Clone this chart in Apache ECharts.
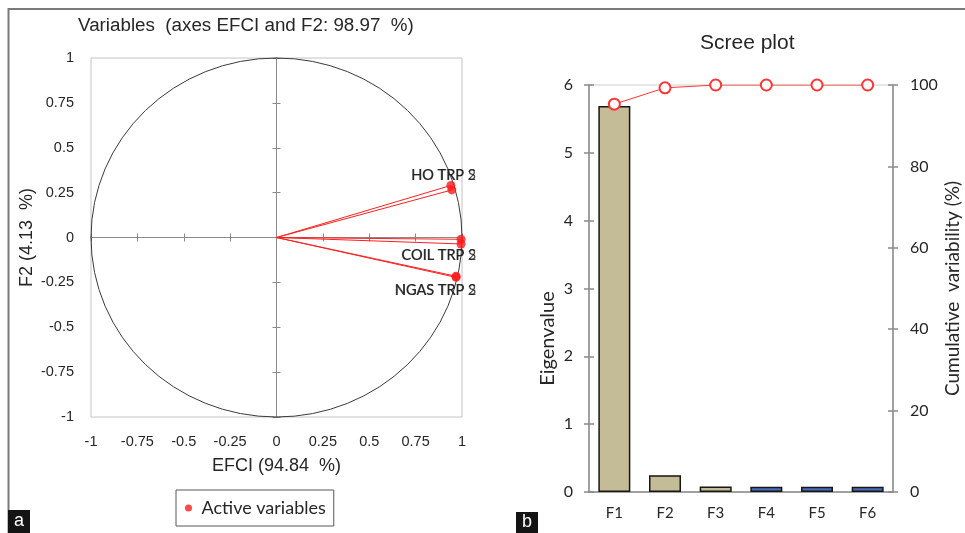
<!DOCTYPE html>
<html>
<head>
<meta charset="utf-8">
<script src="https://cdn.jsdelivr.net/npm/echarts@6/dist/echarts.min.js"></script>
<style>html,body{margin:0;padding:0;background:#fff;}#c{width:965px;height:533px;}</style>
</head>
<body>
<div id="c"></div>
<script>
// ---- Data: correlation circle (panel a) ----
const varNames = ['HO TRP S', 'HO TRP 2', 'COIL TRP S', 'COIL TRP 2', 'NGAS TRP S', 'NGAS TRP 2'];
const efciLoad = [0.94, 0.945, 0.995, 0.995, 0.968, 0.968];
const f2Load = [0.29, 0.265, -0.01, -0.036, -0.216, -0.222];
// ---- Data: scree plot (panel b) ----
const factors = ['F1', 'F2', 'F3', 'F4', 'F5', 'F6'];
const eigenvalues = [5.69, 0.248, 0.08, 0.078, 0.078, 0.078];
const cumulative = [95.3, 99.3, 100, 100, 100, 100];

// label placement (style only)
const labelOffsets = [[25, -10], [24, -15], [15, 16], [15, 11], [20, 14], [20, 13]];

const ARIAL = 'Liberation Sans';
const CAL = 'Lato';
const TXT = '#262626';

const chart = echarts.init(document.getElementById('c'), null, {renderer: 'canvas'});

const vectorSeries = varNames.map((n, i) => ({
  type: 'line', xAxisIndex: 0, yAxisIndex: 0, silent: true,
  data: [[0, 0], [efciLoad[i], f2Load[i]]],
  symbol: 'none', lineStyle: {color: '#ff2020', width: 1}, z: 3
}));

const option = {
  animation: false,
  title: [
    {text: 'Variables  (axes EFCI and F2: 98.97  %)', left: 78, top: 16, padding: 0,
     textStyle: {fontFamily: ARIAL, fontSize: 18.8, fontWeight: 'normal', color: TXT}},
    {text: 'Scree plot', left: 700, top: 33, padding: 0,
     textStyle: {fontFamily: ARIAL, fontSize: 21, fontWeight: 'normal', color: TXT}},
    {text: 'a', left: 8, top: 510, padding: [2, 6, 2, 6], backgroundColor: '#141414',
     textStyle: {fontFamily: ARIAL, fontSize: 18, lineHeight: 19, fontWeight: 'normal', color: '#fff'}},
    {text: 'b', left: 516, top: 512, padding: [1, 6, 1, 6], backgroundColor: '#141414',
     textStyle: {fontFamily: ARIAL, fontSize: 18, lineHeight: 19, fontWeight: 'normal', color: '#fff'}}
  ],
  graphic: [
    {type: 'line', shape: {x1: 8, y1: 9, x2: 965, y2: 9}, style: {stroke: '#7a7a7a', lineWidth: 2}},
    {type: 'line', shape: {x1: 8.5, y1: 8, x2: 8.5, y2: 533}, style: {stroke: '#7a7a7a', lineWidth: 2}}
  ],
  legend: {
    data: ['Active variables'], left: 176, top: 490, selectedMode: false,
    borderColor: '#595959', borderWidth: 1, padding: [9, 8, 9, 9],
    icon: 'circle', itemWidth: 16, itemHeight: 7,
    textStyle: {fontFamily: CAL, fontSize: 18, color: TXT}
  },
  grid: [
    {left: 91, top: 58, width: 371, height: 359, show: true, borderColor: '#c4c4c4', borderWidth: 1},
    {left: 589, top: 85, width: 304, height: 407, show: true, borderColor: '#cfcfcf', borderWidth: 1}
  ],
  xAxis: [
    {gridIndex: 0, type: 'value', min: -1, max: 1, interval: 0.25, position: 'bottom',
     axisLine: {show: false, onZero: false}, axisTick: {show: false}, splitLine: {show: false},
     axisLabel: {margin: 17, fontFamily: ARIAL, fontSize: 14.5, color: TXT},
     name: 'EFCI (94.84  %)', nameLocation: 'middle', nameGap: 40,
     nameTextStyle: {fontFamily: ARIAL, fontSize: 18, color: TXT}},
    {gridIndex: 0, type: 'value', min: -1, max: 1, interval: 0.25, position: 'bottom',
     axisLine: {show: true, onZero: true, onZeroAxisIndex: 0, lineStyle: {color: '#8a8a8a', width: 1}},
     axisTick: {show: true, inside: true, length: 4, lineStyle: {color: '#8a8a8a'}},
     axisLabel: {show: false}, splitLine: {show: false}},
    {gridIndex: 0, type: 'value', min: -1, max: 1, interval: 0.25, position: 'bottom',
     axisLine: {show: true, onZero: true, onZeroAxisIndex: 0, lineStyle: {color: '#8a8a8a', width: 1}},
     axisTick: {show: true, inside: false, length: 4, lineStyle: {color: '#8a8a8a'}},
     axisLabel: {show: false}, splitLine: {show: false}},
    {gridIndex: 1, type: 'category', data: factors, boundaryGap: true,
     axisLine: {show: true, lineStyle: {color: '#8a8a8a', width: 1.5}}, axisTick: {show: false},
     axisLabel: {margin: 14, fontFamily: CAL, fontSize: 15, color: TXT}}
  ],
  yAxis: [
    {gridIndex: 0, type: 'value', min: -1, max: 1, interval: 0.25, position: 'left',
     axisLine: {show: false, onZero: false}, axisTick: {show: false}, splitLine: {show: false},
     axisLabel: {margin: 17, fontFamily: ARIAL, fontSize: 14.5, color: TXT},
     name: 'F2 (4.13  %)', nameLocation: 'middle', nameGap: 55, nameRotate: 90,
     nameTextStyle: {fontFamily: ARIAL, fontSize: 18, color: TXT}},
    {gridIndex: 0, type: 'value', min: -1, max: 1, interval: 0.25, position: 'left',
     axisLine: {show: true, onZero: true, onZeroAxisIndex: 0, lineStyle: {color: '#8a8a8a', width: 1}},
     axisTick: {show: true, inside: true, length: 4, lineStyle: {color: '#8a8a8a'}},
     axisLabel: {show: false}, splitLine: {show: false}},
    {gridIndex: 0, type: 'value', min: -1, max: 1, interval: 0.25, position: 'left',
     axisLine: {show: true, onZero: true, onZeroAxisIndex: 0, lineStyle: {color: '#8a8a8a', width: 1}},
     axisTick: {show: true, inside: false, length: 4, lineStyle: {color: '#8a8a8a'}},
     axisLabel: {show: false}, splitLine: {show: false}},
    {gridIndex: 1, type: 'value', min: 0, max: 6, interval: 1, position: 'left',
     axisLine: {show: true, lineStyle: {color: '#8a8a8a', width: 1.5}},
     axisTick: {show: true, inside: false, length: 5, lineStyle: {color: '#8a8a8a', width: 1.5}},
     splitLine: {show: false},
     axisLabel: {margin: 16, fontFamily: CAL, fontSize: 16, color: TXT},
     name: 'Eigenvalue', nameLocation: 'middle', nameGap: 31, nameRotate: 90,
     nameTextStyle: {fontFamily: CAL, fontSize: 20, color: TXT, padding: [0, 100, 0, 0]}},
    {gridIndex: 1, type: 'value', min: 0, max: 6, interval: 1, position: 'left',
     axisLine: {show: false}, splitLine: {show: false}, axisLabel: {show: false},
     axisTick: {show: true, inside: true, length: 5, lineStyle: {color: '#8a8a8a', width: 1.5}}},
    {gridIndex: 1, type: 'value', min: 0, max: 100, interval: 20, position: 'right',
     axisLine: {show: true, lineStyle: {color: '#8a8a8a', width: 1.5}},
     axisTick: {show: true, inside: false, length: 5, lineStyle: {color: '#8a8a8a', width: 1.5}},
     splitLine: {show: false},
     axisLabel: {margin: 17, fontFamily: CAL, fontSize: 16, color: TXT},
     name: 'Cumulative  variability (%)', nameLocation: 'middle', nameGap: 50, nameRotate: 90,
     nameTextStyle: {fontFamily: CAL, fontSize: 19, color: TXT}},
    {gridIndex: 1, type: 'value', min: 0, max: 100, interval: 20, position: 'right',
     axisLine: {show: false}, splitLine: {show: false}, axisLabel: {show: false},
     axisTick: {show: true, inside: true, length: 5, lineStyle: {color: '#8a8a8a', width: 1.5}}}
  ],
  series: [
    {
      type: 'custom', xAxisIndex: 0, yAxisIndex: 0, silent: true, z: 2,
      data: [[0, 0]],
      renderItem: function (params, api) {
        const c = api.coord([0, 0]);
        const e = api.coord([1, 0]);
        const t = api.coord([0, 1]);
        const rx = e[0] - c[0], ry = c[1] - t[1];
        const d = 'M ' + (c[0] - rx) + ' ' + c[1] +
          ' A ' + rx + ' ' + ry + ' 0 1 0 ' + (c[0] + rx) + ' ' + c[1] +
          ' A ' + rx + ' ' + ry + ' 0 1 0 ' + (c[0] - rx) + ' ' + c[1] + ' Z';
        return {type: 'path', shape: {pathData: d}, style: {fill: 'none', stroke: '#3a3a3a', lineWidth: 1}};
      }
    },
    ...vectorSeries,
    {
      name: 'Active variables', type: 'scatter', xAxisIndex: 0, yAxisIndex: 0, z: 5,
      symbolSize: 9, itemStyle: {color: '#ff1a1a'},
      data: varNames.map((n, i) => ({
        name: n, value: [efciLoad[i], f2Load[i]],
        label: {show: true, formatter: '{b}', position: 'inside', align: 'right', verticalAlign: 'middle',
                offset: labelOffsets[i], fontFamily: CAL, fontSize: 14.5, color: '#1a1a1a'}
      }))
    },
    {
      name: 'Eigenvalue', type: 'bar', xAxisIndex: 3, yAxisIndex: 3, barWidth: 32,
      data: eigenvalues,
      itemStyle: {
        color: p => (p.dataIndex < 3 ? '#c4bc96' : '#4a6cbd'),
        borderColor: '#161616', borderWidth: 1.5
      }
    },
    {
      name: 'Cumulative variability (%)', type: 'line', xAxisIndex: 3, yAxisIndex: 5, z: 6,
      data: cumulative, symbol: 'emptyCircle', symbolSize: 11,
      lineStyle: {color: '#ff3535', width: 1},
      itemStyle: {color: '#ff3535', borderColor: '#ff3535', borderWidth: 1}
    }
  ]
};
chart.setOption(option);
</script>
</body>
</html>
